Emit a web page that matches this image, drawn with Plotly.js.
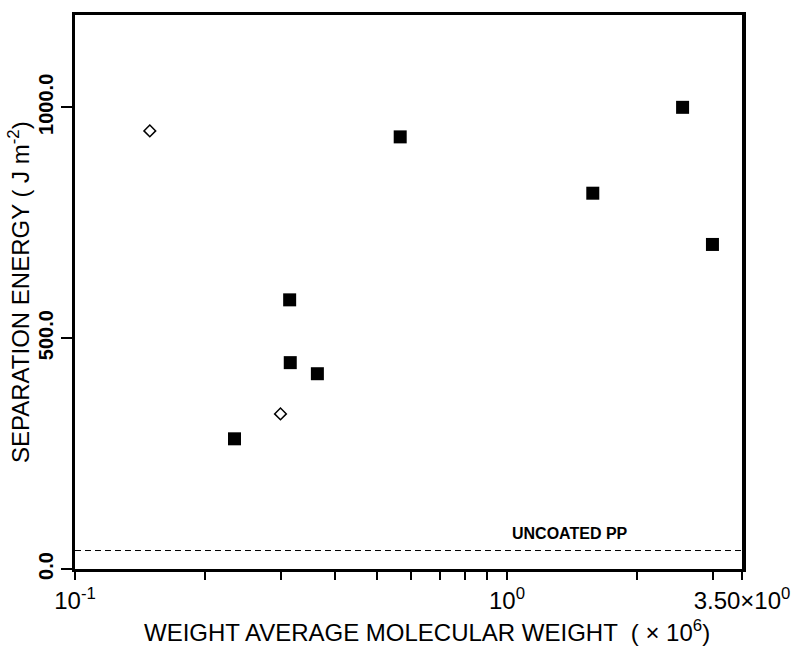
<!DOCTYPE html>
<html>
<head>
<meta charset="utf-8">
<script src="https://cdn.plot.ly/plotly-3.0.1.min.js"></script>
<style>html,body{margin:0;padding:0;background:#fff;}#chart{width:795px;height:646px;}</style>
</head>
<body>
<div id="chart"></div>
<script>
// Filled squares
const squareMw = [0.234, 0.314, 0.315, 0.364, 0.566, 1.58, 2.55, 2.99];
const squareEnergy = [282, 583, 447, 423, 936, 814, 1000, 703];
// Open diamonds
const diamondMw = [0.149, 0.299];
const diamondEnergy = [949, 336];
// Uncoated PP reference level
const uncoatedLabel = 'UNCOATED PP';
const uncoatedEnergy = 40;
const uncoatedLabelX = 1.4;
const xRange = [0.1, 3.5];
// Tick marks / labels
const xTickVals = [0.1, 0.2, 0.3, 0.4, 0.5, 0.6, 0.7, 0.8, 0.9, 1, 2, 3, 3.5];
const xTickText = ['10<sup>-1</sup>', '', '', '', '', '', '', '', '', '10<sup>0</sup>', '', '', '3.50×10<sup>0</sup>'];
const yTickVals = [0, 500, 1000];
const yTickText = ['0.0', '500.0', '1000.0'];

const font = 'Liberation Sans, Arial, sans-serif';
const narrow = 'Liberation Sans Narrow, Liberation Sans, Arial, sans-serif';

const traces = [
  {
    x: xRange, y: [uncoatedEnergy, uncoatedEnergy], mode: 'lines', type: 'scatter',
    line: {color: '#000', width: 1, dash: '6px,4px'}, hoverinfo: 'skip', showlegend: false
  },
  {
    x: squareMw, y: squareEnergy, mode: 'markers', type: 'scatter',
    marker: {symbol: 'square', size: 13, color: '#000', line: {width: 0}}, showlegend: false
  },
  {
    x: diamondMw, y: diamondEnergy, mode: 'markers', type: 'scatter',
    marker: {symbol: 'diamond-open', size: 9, color: '#000', line: {width: 1.5, color: '#000'}}, showlegend: false
  }
];

const layout = {
  width: 795, height: 646,
  margin: {l: 75, r: 53, t: 15, b: 77},
  paper_bgcolor: '#fff', plot_bgcolor: '#fff',
  font: {family: font, color: '#000'},
  showlegend: false,
  xaxis: {
    type: 'log', range: [Math.log10(xRange[0]), Math.log10(xRange[1])],
    tickmode: 'array', tickvals: xTickVals, ticktext: xTickText,
    ticks: 'outside', ticklen: 8, tickwidth: 2, tickcolor: '#000',
    showline: true, linewidth: 3, linecolor: '#000', mirror: true,
    showgrid: false, zeroline: false,
    tickfont: {size: 24, family: font}
  },
  yaxis: {
    range: [0, 1200],
    tickmode: 'array', tickvals: yTickVals, ticktext: yTickText,
    ticks: 'outside', ticklen: 11, tickwidth: 2, tickcolor: '#000',
    showline: true, linewidth: 3.5, linecolor: '#000', mirror: true,
    showgrid: false, zeroline: false, tickangle: -90,
    tickfont: {size: 20, family: narrow, weight: 'bold'}
  },
  annotations: [
    {
      text: uncoatedLabel, xref: 'x', yref: 'y', x: Math.log10(uncoatedLabelX), y: uncoatedEnergy,
      yanchor: 'bottom', xanchor: 'center', yshift: 7, showarrow: false,
      font: {size: 16, family: narrow, weight: 'bold'}
    },
    {
      text: 'SEPARATION ENERGY ( J m<sup>-2</sup>)', xref: 'paper', yref: 'paper',
      x: -0.084, y: 0.5, textangle: -90, showarrow: false,
      xanchor: 'center', yanchor: 'middle', font: {size: 24, family: font}
    },
    {
      text: 'WEIGHT AVERAGE MOLECULAR WEIGHT  ( × 10<sup>6</sup>)', xref: 'paper', yref: 'paper',
      x: 0.528, y: -0.112, showarrow: false,
      xanchor: 'center', yanchor: 'middle', font: {size: 24, family: font}
    }
  ]
};

Plotly.newPlot('chart', traces, layout, {displayModeBar: false, staticPlot: true});
</script>
</body>
</html>
